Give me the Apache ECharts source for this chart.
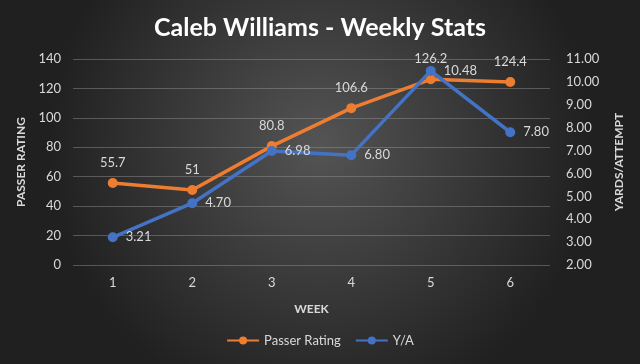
<!DOCTYPE html>
<html>
<head>
<meta charset="utf-8">
<script src="https://cdn.jsdelivr.net/npm/echarts@6/dist/echarts.min.js"></script>
<style>
html,body{margin:0;padding:0;}
#c{width:640px;height:364px;}
</style>
</head>
<body>
<div id="c"></div>
<script>
var weeks = ['1','2','3','4','5','6'];
var passerRating = [55.7, 51, 80.8, 106.6, 126.2, 124.4];
var yardsPerAttempt = [3.21, 4.70, 6.98, 6.80, 10.48, 7.80];

var txt = '#d9d9d9';
var font = 'Lato';
var chart = echarts.init(document.getElementById('c'));
chart.setOption({
  backgroundColor: {
    type: 'radial', x: 0.5, y: 0.4, r: 0.75,
    colorStops: [{offset: 0, color: '#545454'}, {offset: 1, color: '#202020'}]
  },
  textStyle: {fontFamily: font},
  title: {
    text: 'Caleb Williams - Weekly Stats',
    left: 'center', top: 10,
    textStyle: {color: '#ffffff', fontSize: 25, fontWeight: 'bold', fontFamily: font}
  },
  legend: {
    bottom: 12, left: 'center',
    itemWidth: 32, itemHeight: 10, itemGap: 14,
    textStyle: {color: txt, fontSize: 13, fontFamily: font},
    data: ['Passer Rating', 'Y/A']
  },
  grid: {left: 73, right: 90, top: 59, bottom: 99},
  xAxis: {
    type: 'category', data: weeks, boundaryGap: true,
    name: 'WEEK', nameLocation: 'middle', nameGap: 38,
    nameTextStyle: {color: txt, fontWeight: 'bold', fontSize: 12},
    axisLine: {show: false}, axisTick: {show: false},
    axisLabel: {color: txt, fontSize: 13, margin: 11}
  },
  yAxis: [{
    type: 'value', min: 0, max: 140, interval: 20,
    name: 'PASSER RATING', nameLocation: 'middle', nameGap: 45, nameRotate: 90,
    nameTextStyle: {color: txt, fontWeight: 'bold', fontSize: 12},
    axisLine: {show: false}, axisTick: {show: false},
    axisLabel: {color: txt, fontSize: 13, margin: 12},
    splitLine: {lineStyle: {color: 'rgba(150,150,150,0.45)', width: 1}}
  }, {
    type: 'value', min: 2, max: 11, interval: 1, position: 'right',
    name: 'YARDS/ATTEMPT', nameLocation: 'middle', nameGap: 63, nameRotate: 90,
    nameTextStyle: {color: txt, fontWeight: 'bold', fontSize: 12},
    axisLine: {show: false}, axisTick: {show: false},
    axisLabel: {color: txt, fontSize: 13, margin: 16, formatter: function (v) { return v.toFixed(2); }},
    splitLine: {show: false}
  }],
  series: [{
    name: 'Passer Rating', type: 'line', yAxisIndex: 0, data: passerRating,
    color: '#ED7D31',
    lineStyle: {width: 3.5, color: '#ED7D31'},
    symbol: 'circle', symbolSize: 10,
    itemStyle: {color: '#ED7D31'},
    label: {show: true, position: 'top', distance: 9, color: txt, fontSize: 13, fontFamily: font},
    z: 2
  }, {
    name: 'Y/A', type: 'line', yAxisIndex: 1, data: yardsPerAttempt,
    color: '#4472C4',
    lineStyle: {width: 3.5, color: '#4472C4'},
    symbol: 'circle', symbolSize: 10,
    itemStyle: {color: '#4472C4'},
    label: {show: true, position: 'right', distance: 8, color: txt, fontSize: 13, fontFamily: font,
      formatter: function (p) { return p.value.toFixed(2); }},
    z: 3
  }]
});
</script>
</body>
</html>
